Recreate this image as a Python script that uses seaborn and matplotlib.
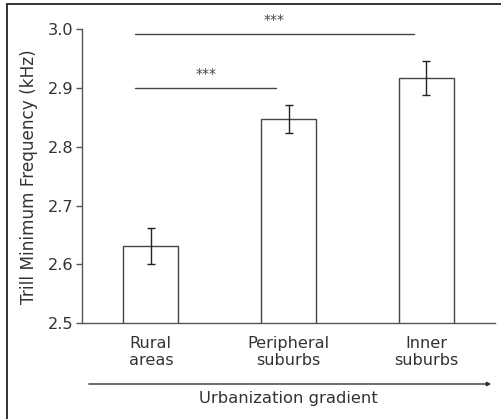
import matplotlib
matplotlib.use("Agg")
import matplotlib.pyplot as plt
from matplotlib.patches import Rectangle
import seaborn as sns
import pandas as pd

categories = ["Rural\nareas", "Peripheral\nsuburbs", "Inner\nsuburbs"]
means = [2.631, 2.847, 2.918]
errors = [0.030, 0.024, 0.029]
yticks = [2.5, 2.6, 2.7, 2.8, 2.9, 3.0]
sig_pairs = [(0, 1, 2.90, "***"), (0, 2, 2.993, "***")]

sns.set_theme(style="white")
plt.rcParams['font.family'] = ['DejaVu Sans']
text_c = "#333333"

df = pd.DataFrame({"cat": categories, "val": means})

fig = plt.figure(figsize=(5.01, 4.19), dpi=100)
ax = fig.add_axes([82/501, 1-323/419, (495-82)/501, (323-29.5)/419])

sns.barplot(data=df, x="cat", y="val", ax=ax, color="white", edgecolor="#444444",
            linewidth=1.0, width=0.4, errorbar=None)
ax.errorbar(range(len(means)), means, yerr=errors, fmt="none", ecolor="#222222",
            elinewidth=1.0, capsize=3, capthick=1.0)

ax.set_ylim(2.5, 3.0)
ax.set_xlim(-0.5, 2.5)
ax.set_yticks(yticks)
ax.set_yticklabels([f"{v:.1f}" for v in yticks])
for s in ["top", "right"]:
    ax.spines[s].set_visible(False)
for s in ["left", "bottom"]:
    ax.spines[s].set_color("#555555")
    ax.spines[s].set_linewidth(1.0)
ax.tick_params(axis="y", left=True, length=4, width=1, color="#555555",
               labelsize=11.6, labelcolor=text_c, pad=2)
ax.tick_params(axis="x", bottom=False, labelsize=11.6, labelcolor=text_c, pad=3)
ax.set_xlabel("")
ax.set_ylabel("Trill Minimum Frequency (kHz)", fontsize=12.2, color=text_c, labelpad=7)

for i, j, y, label in sig_pairs:
    x0 = i - 0.113
    x1 = j - 0.09
    ax.plot([x0, x1], [y, y], color="#444444", lw=1.0, clip_on=False)
    ax.text((x0 + x1) / 2, y + 0.012, label, ha="center", va="bottom",
            fontsize=10, color="#444444", clip_on=False)

# urbanization gradient arrow
fig.patches.append(matplotlib.patches.FancyArrowPatch(
    (86/501, 1-384/419), (494/501, 1-384/419), transform=fig.transFigure,
    arrowstyle="-|>", mutation_scale=6, color="#333333", lw=1.0))
fig.text(288/501, 1-398/419, "Urbanization gradient", ha="center", va="center",
         fontsize=11.8, color=text_c)

# frame
fig.patches.append(Rectangle((6.5/501, -0.05), 1.2, 1 - 4/419 + 0.05,
                             transform=fig.transFigure, fill=False,
                             edgecolor="#222222", lw=1.3))

fig.savefig("out.png", dpi=100)
